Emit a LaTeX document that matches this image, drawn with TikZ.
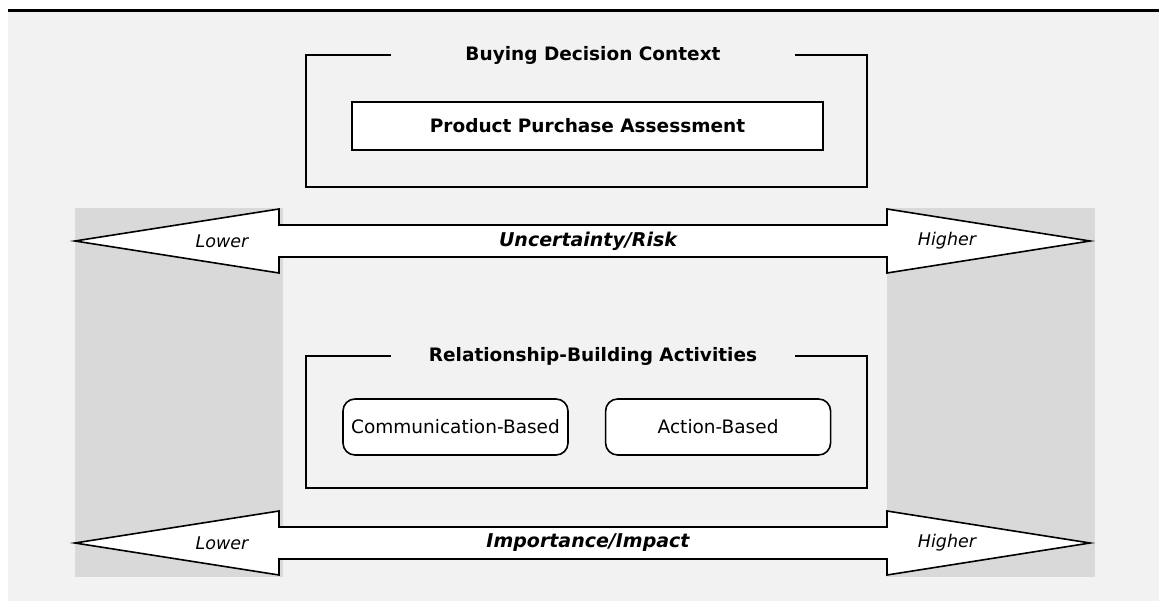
\documentclass[tikz,border=0pt]{standalone}
\usepackage{fontspec}
\setmainfont{DejaVu Sans}
\usepackage{tikz}
\usetikzlibrary{positioning, calc}

\definecolor{panelgray}{HTML}{F2F2F2}
\definecolor{bandgray}{HTML}{D9D9D9}

\tikzset{
	frameline/.style={draw=black, line width=1.6pt},
	frametitle/.style={font=\fontsize{18.5}{22}\selectfont\bfseries, inner sep=0pt},
	plainbox/.style={draw=black, line width=1.6pt, fill=white, minimum width=471pt, minimum height=48pt, inner sep=0pt,
		font=\fontsize{18.5}{22}\selectfont\bfseries},
	softbox/.style={draw=black, line width=1.6pt, fill=white, rounded corners=12pt, minimum width=225pt, minimum height=56pt,
		inner sep=0pt, font=\fontsize{18.5}{22}\selectfont},
	endlabel/.style={font=\fontsize{17.5}{20}\selectfont\itshape, inner sep=0pt},
	axislabel/.style={font=\fontsize{19}{22}\selectfont\bfseries\itshape, inner sep=0pt}
}

\begin{document}
\begin{tikzpicture}[x=1pt, y=-1pt]
	
	\useasboundingbox (0,0) rectangle (1159,601);
	\fill[white] (0,0) rectangle (1159,601);
	\fill[panelgray] (8,12) rectangle (1159,601);
	\draw[line width=3pt] (8,11) -- (1159,11);
	
	% shaded bands behind the arrow heads
	\fill[bandgray] (75,208) rectangle (283,577);
	\fill[bandgray] (887,208) rectangle (1095,577);
	
	% buying decision context
	\draw[frameline] (391,55) -- (306,55) -- (306,187) -- (867,187) -- (867,55) -- (795,55);
	\node[frametitle] (context) at (593,55) {Buying Decision Context};
	\node[plainbox] (assess) at (587.5,126) {Product Purchase Assessment};
	
	% double arrows
	\foreach \c/\name/\txt in {241/risk/Uncertainty\slash Risk, 543/impact/Importance\slash Impact}
	{
		\draw[line width=1.6pt, fill=white] (75,\c) -- (279,\c-32) -- (279,\c-16) -- (887,\c-16) -- (887,\c-32)
			-- (1090,\c) -- (887,\c+32) -- (887,\c+16) -- (279,\c+16) -- (279,\c+32) -- cycle;
		\node[endlabel] (\name-low) at (222,\c) {Lower};
		\node[endlabel] (\name-high) at (947,\c) {Higher};
		\node[axislabel] (\name) at (588,\c) {\txt};
	}
	
	% relationship-building activities
	\draw[frameline] (391,356) -- (306,356) -- (306,488) -- (867,488) -- (867,356) -- (795,356);
	\node[frametitle] (activities) at (593,356) {Relationship-Building Activities};
	\node[softbox] (comm) at (455.5,427) {Communication-Based};
	\node[softbox, right=36pt of comm] (action) {Action-Based};
	
\end{tikzpicture}
\end{document}
